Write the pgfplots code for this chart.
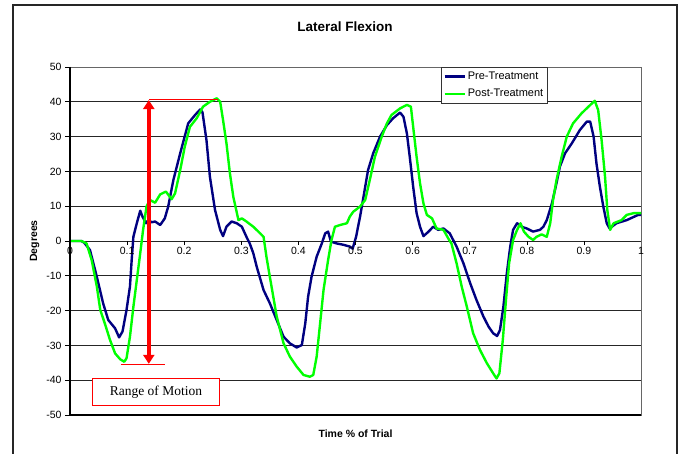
\documentclass[border=0pt]{standalone}
\usepackage{fontspec}
\setmainfont{Liberation Sans}
\newfontfamily\timesfont{Liberation Serif}
\usepackage{pgfplots}
\usepackage{pgfplotstable}
\usetikzlibrary{arrows.meta}
\pgfplotsset{compat=1.18}
\definecolor{navyb}{RGB}{0,0,128}
\definecolor{limeg}{RGB}{0,255,0}
\definecolor{redr}{RGB}{255,0,0}

\pgfplotstableread{
t deg
0 0
0.02 0
0.025 -0.5
0.035 -2.6
0.047 -10.3
0.058 -17.9
0.067 -22.7
0.079 -25.1
0.086 -27.7
0.092 -26
0.099 -19.8
0.105 -13.1
0.108 -5.5
0.111 1.2
0.117 5.1
0.123 8.7
0.127 7
0.133 5.1
0.137 6
0.143 5.4
0.149 5.6
0.158 4.6
0.166 6.5
0.172 9.9
0.181 17.5
0.193 25.2
0.207 33.8
0.219 36.2
0.228 37.8
0.232 37
0.239 29
0.245 18.5
0.254 8.9
0.263 3.2
0.268 1.4
0.274 4.1
0.283 5.6
0.292 5.1
0.301 4.1
0.309 1.2
0.315 -0.8
0.321 -3.5
0.327 -7.4
0.339 -14.1
0.350 -17.9
0.362 -22.7
0.374 -27.5
0.385 -29.4
0.397 -30.6
0.406 -29.9
0.412 -23.7
0.417 -16
0.423 -10.3
0.432 -4.5
0.441 -0.7
0.447 2.2
0.452 2.7
0.457 -0.2
0.467 -0.7
0.479 -1.1
0.490 -1.6
0.495 -2.2
0.501 1.2
0.508 7
0.514 12.7
0.522 20.4
0.531 25.2
0.543 30
0.555 33.3
0.566 35.3
0.578 36.9
0.584 35.7
0.590 30.9
0.595 24.2
0.601 15.6
0.607 8
0.613 4.1
0.619 1.4
0.628 2.7
0.636 4.1
0.645 3.2
0.654 3.6
0.665 2.2
0.677 -1.6
0.689 -6.4
0.701 -12.2
0.712 -17
0.724 -21.7
0.733 -24.6
0.741 -26.5
0.748 -27.3
0.753 -25.6
0.759 -18.9
0.765 -9.3
0.771 -1.6
0.776 3.2
0.783 5.1
0.791 4.1
0.800 3.6
0.811 2.7
0.823 3.2
0.829 4.1
0.835 6
0.844 10.8
0.852 16.6
0.858 21.4
0.867 25.2
0.879 28.1
0.893 31.9
0.905 34.3
0.911 34.3
0.917 30
0.922 22.3
0.928 15.6
0.934 9.9
0.940 5.1
0.945 3.6
0.957 5.1
0.975 6
0.995 7.5
1 7.5
}\pretable

\pgfplotstableread{
t deg
0 0
0.02 0
0.029 -0.7
0.038 -5.5
0.047 -13.1
0.053 -19.8
0.061 -23.7
0.070 -28.4
0.079 -32.3
0.088 -34
0.095 -34.7
0.099 -33.7
0.105 -27.5
0.111 -18.9
0.117 -11.2
0.123 -3.5
0.128 3.2
0.134 9.9
0.140 11.8
0.149 11
0.158 13.4
0.168 14.2
0.178 12
0.184 13.7
0.193 20.4
0.201 27.1
0.210 32.8
0.222 35.3
0.233 38.6
0.245 40
0.257 41
0.263 40
0.268 34.8
0.274 28.1
0.280 19.5
0.286 12.7
0.295 6
0.301 6.5
0.309 5.6
0.321 4.1
0.333 2.2
0.339 1.2
0.344 -4.5
0.350 -10.3
0.362 -21.7
0.374 -29.4
0.385 -33.2
0.397 -36.1
0.409 -38.5
0.420 -39
0.426 -38.5
0.432 -33.2
0.438 -23.7
0.444 -14.1
0.452 -5.5
0.458 0.3
0.464 4.1
0.473 4.6
0.485 5.1
0.490 7
0.496 8.4
0.508 9.9
0.517 11.8
0.525 17.5
0.534 24.2
0.546 30
0.555 33.8
0.563 36.2
0.578 38.1
0.590 39.1
0.597 38.6
0.601 32.8
0.607 24.2
0.613 16.6
0.619 10.8
0.625 7.5
0.634 6.5
0.642 3.6
0.654 3.2
0.664 0.3
0.668 -0.7
0.677 -6.4
0.686 -13.1
0.695 -18.9
0.706 -26.5
0.718 -31.3
0.730 -35.1
0.741 -38
0.747 -39.5
0.752 -38
0.758 -28.4
0.764 -16
0.769 -6.4
0.776 0.3
0.783 3.2
0.789 5.1
0.795 2.7
0.803 1.2
0.811 0.3
0.817 1.2
0.826 1.9
0.835 1.2
0.841 5.1
0.846 11.8
0.852 17.5
0.861 24.2
0.870 30
0.881 33.8
0.896 36.7
0.908 38.6
0.919 40.3
0.925 37.6
0.931 29
0.937 18.5
0.941 8.9
0.946 3.2
0.952 5.1
0.966 6
0.975 7.5
0.987 8
1 8
}\posttable

\begin{document}
\begin{tikzpicture}
\useasboundingbox (0pt,0pt) rectangle (680pt,-454pt);
\draw[black!85, line width=1.3pt] (13pt,-454pt) -- (13pt,-5pt) -- (677pt,-5pt) -- (677pt,-454pt);
\node[font=\fontsize{13.5}{15}\selectfont\bfseries] at (345pt,-27pt) {Lateral Flexion};
\begin{axis}[
  at={(70pt,-415pt)}, anchor=south west,
  scale only axis, width=571pt, height=348pt,
  xmin=0, xmax=1, ymin=-50, ymax=50,
  /pgf/number format/assume math mode=true,
  xtick=\empty,
  xmajorgrids=false, xminorgrids=false,
  ytick={-50,-40,-30,-20,-10,0,10,20,30,40,50},
  yticklabel style={font=\fontsize{10.5}{12}\selectfont},
  ytick pos=left, ytick align=outside,
  major tick length=5pt,
  ytick style={black, line width=0.8pt},
  ymajorgrids,
  y grid style={black!85, line width=0.7pt},
  axis line style={black!60, line width=0.8pt},
  xlabel={Time \% of Trial},
  ylabel={Degrees},
  xlabel style={font=\fontsize{10.5}{12}\selectfont\bfseries, at={(rel axis cs:0.5,0)}, anchor=north, yshift=-11pt},
  ylabel style={font=\fontsize{10.5}{12}\selectfont\bfseries},
  legend style={at={(rel axis cs:0.65,1)}, anchor=north west, font=\fontsize{11}{12}\selectfont,
     draw=black!80, line width=0.6pt, fill=white, inner xsep=2pt, inner ysep=2.5pt, row sep=4.5pt,
     cells={anchor=west}},
  legend image code/.code={\draw[#1, line width=2.4pt] (0pt,0pt) -- (20pt,0pt);},
  clip=false,
]
\addplot[navyb, line width=2.4pt, line join=round] table[x=t, y=deg] {\pretable};
\addlegendentry{Pre-Treatment}
\addplot[limeg, line width=2.4pt, line join=round] table[x=t, y=deg] {\posttable};
\addlegendentry{Post-Treatment}
\draw[black, line width=1.4pt] (rel axis cs:0,1) -- (rel axis cs:0,0) -- (rel axis cs:1,0);
\pgfplotsinvokeforeach{0.1,0.2,0.3,0.4,0.5,0.6,0.7,0.8,0.9}{\draw[black, line width=0.6pt] (axis cs:#1,0) -- ([yshift=-4pt]axis cs:#1,0);}
\pgfplotsinvokeforeach{0,0.1,0.2,0.3,0.4,0.5,0.6,0.7,0.8,0.9,1}{\node[anchor=north, inner sep=1pt, yshift=-5pt, font=\fontsize{10.5}{12}\selectfont] at (axis cs:#1,0) {#1};}
\draw[redr, line width=0.8pt] (axis cs:0.138,40.7) -- (axis cs:0.260,40.7);
\draw[redr, line width=0.8pt] (axis cs:0.089,-35.5) -- (axis cs:0.166,-35.5);
\draw[redr, line width=3.5pt, -{Triangle[length=9pt,width=11pt]}] (axis cs:0.138,2) -- (axis cs:0.138,40.5);
\draw[redr, line width=3.5pt, -{Triangle[length=9pt,width=11pt]}] (axis cs:0.138,2) -- (axis cs:0.138,-35.3);
\draw[redr, line width=0.9pt, fill=white] (axis cs:0.0397,-39.45) rectangle (axis cs:0.2615,-47.3);
\node[font=\timesfont\fontsize{13.5}{15}\selectfont] at (axis cs:0.1506,-43.4) {Range of Motion};
\end{axis}
\end{tikzpicture}
\end{document}
